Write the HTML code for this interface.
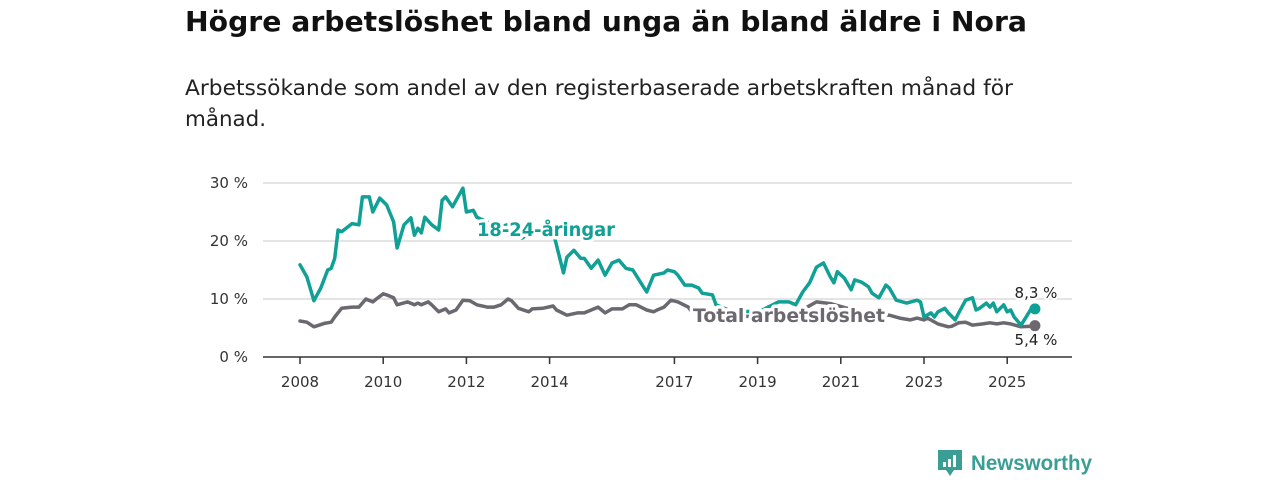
<!DOCTYPE html>
<html><head><meta charset="utf-8">
<style>
html,body{margin:0;padding:0;background:#fff;}
body{width:1280px;height:480px;overflow:hidden;position:relative;font-family:"Liberation Sans",sans-serif;}
svg{position:absolute;left:0;top:0;}
</style></head>
<body>
<svg id="chart" width="1280" height="480">
<text x="185" y="31" font-size="28" font-weight="bold" fill="#111" font-family="'DejaVu Sans','Liberation Sans',sans-serif" textLength="842" lengthAdjust="spacingAndGlyphs">Högre arbetslöshet bland unga än bland äldre i Nora</text>
<text x="185" y="95" font-size="21" fill="#222" font-family="'DejaVu Sans','Liberation Sans',sans-serif" textLength="828" lengthAdjust="spacingAndGlyphs">Arbetssökande som andel av den registerbaserade arbetskraften månad för</text>
<text x="185" y="126" font-size="21" fill="#222" font-family="'DejaVu Sans','Liberation Sans',sans-serif" textLength="81" lengthAdjust="spacingAndGlyphs">månad.</text>
</svg>
<script>
// months since Jan 2008
const youthMonths=[0,2,4,6,8,9,10,11,12,15,17,18,20,21,23,25,27,28,30,32,33,34,35,36,38,40,41,42,44,47,48,50,51,55,58,61,64,68,71,73,76,77,79,81,82,84,86,88,90,92,94,96,100,102,105,106,108,109,111,113,115,116,119,120,124,128,133,138,141,143,145,147,149,151,153,154,155,157,159,160,162,164,165,167,169,170,172,175,178,179,180,182,183,184,186,187,189,190,192,194,195,196,198,199,200,201,203,204,205,206,208,211,212];
const youthValues=[15.9,13.8,9.7,11.9,15,15.3,17,21.9,21.6,23,22.8,27.6,27.6,25,27.4,26.2,23.3,18.8,22.8,24,21,22.2,21.4,24.1,22.8,21.9,27,27.6,25.9,29.1,25,25.3,24.1,23,22.5,23,20.5,22,22,21.6,14.5,17.2,18.4,17,17,15.3,16.7,14.1,16.2,16.7,15.3,15,11.2,14.1,14.5,15,14.7,14.1,12.4,12.4,11.9,11,10.7,9,8,7.8,8,9.5,9.5,9,11.2,12.8,15.5,16.2,13.8,12.8,14.7,13.6,11.6,13.3,12.9,12.1,11,10.2,12.4,11.9,9.8,9.3,9.8,9.5,6.9,7.6,6.9,7.8,8.4,7.6,6.4,7.6,9.8,10.2,8.1,8.4,9.3,8.6,9.3,7.8,9,7.8,8.1,6.9,5.5,8.4,8.3];
const totalMonths=[0,2,4,7,9,10,12,15,17,19,21,22,24,25,27,28,31,33,34,35,37,38,40,42,43,45,47,49,51,54,56,58,60,61,63,66,67,70,73,74,77,80,82,84,86,88,90,93,95,97,100,102,103,105,107,109,112,113,115,121,127,133,141,146,149,153,159,164,170,173,176,178,180,181,184,187,188,190,192,194,197,199,201,203,205,208,211,212];
const totalValues=[6.2,6,5.2,5.8,6,6.9,8.4,8.6,8.6,10,9.5,10,10.9,10.7,10.2,9,9.5,9,9.3,9,9.5,9,7.8,8.3,7.6,8.1,9.8,9.7,9,8.6,8.6,9,10,9.7,8.4,7.8,8.3,8.4,8.8,8.1,7.2,7.6,7.6,8.1,8.6,7.6,8.3,8.3,9,9,8.1,7.8,8.1,8.6,9.8,9.5,8.6,7.8,7.5,7.2,7,7,7.5,8.5,9.5,9.2,8.2,7.5,7.2,6.7,6.4,6.7,6.4,6.7,5.7,5.2,5.3,5.9,6,5.5,5.7,5.9,5.7,5.9,5.7,5.2,5.3,5.4];
const yTicks=[0,10,20,30];
const yTickLabels=["0 %","10 %","20 %","30 %"];
const xTicks=[2008,2010,2012,2014,2017,2019,2021,2023,2025];

const NS="http://www.w3.org/2000/svg";
const svg=document.getElementById('chart');
const x=t=>300+(t-2008)*41.6;
const xm=m=>x(2008+m/12);
const y=v=>357-v*5.8;
function mk(tag,attrs,parent){const e=document.createElementNS(NS,tag);for(const k in attrs)e.setAttribute(k,attrs[k]);(parent||svg).appendChild(e);return e;}
const font="'DejaVu Sans','Liberation Sans',sans-serif";

yTicks.forEach((v,i)=>{
  if(v>0){const g=mk('line',{x1:263,x2:1072,y1:y(v),y2:y(v),stroke:'#dcdcdc','stroke-width':1.5});
  
  }
  const t=mk('text',{x:248,y:y(v)+5,'text-anchor':'end','font-size':15,fill:'#333','font-family':font});
  t.textContent=yTickLabels[i];
  
  
});
const ax=mk('line',{x1:263,x2:1072,y1:357,y2:357,stroke:'#333','stroke-width':1.5});


xTicks.forEach(yr=>{
  const tk=mk('line',{x1:x(yr),x2:x(yr),y1:357,y2:364,stroke:'#333','stroke-width':1.5});
  
  
  const t=mk('text',{x:x(yr),y:387,'text-anchor':'middle','font-size':15,fill:'#333','font-family':font});
  t.textContent=yr;
  
  
});
function line(ms,vs,color,name){
  const d=ms.map((m,i)=>(i?'L':'M')+xm(m).toFixed(1)+','+y(vs[i]).toFixed(1)).join('');
  const p=mk('path',{d:d,fill:'none',stroke:color,'stroke-width':3.5,'stroke-linejoin':'round','stroke-linecap':'round'});
  
  
  const n=ms.length-1;
  const c=mk('circle',{cx:xm(ms[n]),cy:y(vs[n]),r:5.5,fill:color});
  
  
}
line(totalMonths,totalValues,'#6b6870','total-line');
line(youthMonths,youthValues,'#10a095','youth-line');
function label(txt,xx,yy,color,size,bold,name,anchor,len){
  const a={x:xx,y:yy,'font-size':size,'font-weight':bold?'bold':'normal',fill:color,stroke:'#fff','stroke-width':bold?7:4,'paint-order':'stroke','stroke-linejoin':'round','font-family':font,'text-anchor':anchor||'start'};
  if(len){a.textLength=len;a.lengthAdjust='spacingAndGlyphs';}
  const t=mk('text',a);
  t.textContent=txt;
  
  
}
label('18-24-åringar',477,236,'#10a095',19,true,'youth-series-label',null,138);
label('Total arbetslöshet',693,322,'#6b6870',19,true,'total-series-label',null,192);
label('8,3 %',1036,298,'#222',15,false,'youth-end-value','middle');
label('5,4 %',1036,345,'#222',15,false,'total-end-value','middle');

// logo
const lg=mk('g',{});


mk('path',{d:'M938,450 h24 v20 h-8 l-4,6 l-4,-6 h-8 z',fill:'#3a9e94'},lg);
mk('rect',{x:943,y:462,width:3,height:5,fill:'#fff'},lg);
mk('rect',{x:948,y:459,width:3,height:8,fill:'#fff'},lg);
mk('rect',{x:953,y:455,width:3,height:12,fill:'#fff'},lg);
const lt=mk('text',{x:971,y:470,'font-size':21,'font-weight':'bold',fill:'#3a9e94','font-family':"'Liberation Sans',sans-serif",textLength:121,lengthAdjust:'spacingAndGlyphs'},lg);
lt.textContent='Newsworthy';
</script>
</body></html>
